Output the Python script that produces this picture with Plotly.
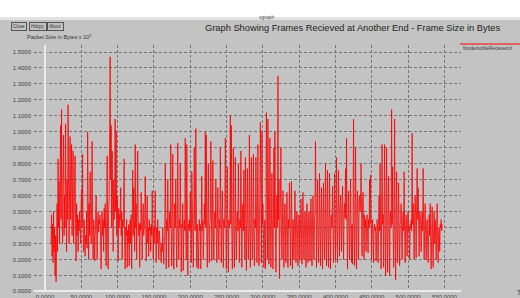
import plotly.graph_objects as go

# ---------------- data (frame size in bytes x 10^3) ----------------
frame_size = [
    # t ~ 8 .. 137
    0.30, 0.48, 0.22, 0.42, 0.18, 0.50, 0.25, 0.40,
    0.10, 0.35, 0.06, 0.30, 0.55, 0.25, 0.83, 0.40, 0.69, 0.30,
    0.55, 1.04, 0.45, 1.14, 0.50, 0.30, 0.70, 0.98, 0.35, 0.60,
    0.40, 1.05, 0.55, 0.25, 0.70, 0.45, 1.17, 0.50, 0.30, 0.65,
    0.97, 0.45, 0.60, 0.92, 0.35, 0.55, 0.88, 0.30, 0.50, 0.65,
    0.85, 0.40, 0.19, 0.55, 0.35, 0.48, 0.25, 0.45, 0.38, 0.50,
    0.42, 0.30, 0.55, 0.64, 0.40, 0.86, 0.35, 0.25, 0.45, 0.28,
    0.22, 0.35, 0.30, 0.50, 0.27, 1.00, 0.40, 0.20, 0.55, 0.35,
    0.75, 0.40, 0.30, 0.55, 0.94, 0.38, 0.20, 0.45, 0.40, 0.19,
    0.42, 0.38, 0.60, 0.40, 0.20, 0.45, 0.50, 0.37, 0.45, 0.42,
    0.48, 0.30, 0.14, 0.40, 0.50, 0.35, 0.45, 0.25, 0.52, 0.40,
    0.55, 0.35, 0.16, 0.45, 0.85, 0.30, 0.14, 0.50, 0.60, 1.04,
    1.47, 0.70, 1.04, 0.40, 0.88, 0.55, 0.25, 0.70, 0.45, 0.60,
    1.08, 0.50, 1.00, 0.35, 0.60, 0.45, 0.19, 0.52, 0.40, 0.48,
    0.45, 0.65, 0.35, 0.50, 0.20, 0.45, 0.40, 0.60, 0.83, 0.30,
    0.14, 0.40, 0.35, 0.45, 0.15, 0.38, 0.30, 0.42, 0.16, 0.40,
    0.45, 0.30, 0.48, 0.14, 0.40, 0.76, 0.35, 0.65, 0.45, 0.25,
    0.92, 0.40, 0.55, 0.20, 0.50, 0.88, 0.42, 0.35, 0.43, 0.15,
    0.42, 0.38, 0.62, 0.40, 0.20, 0.45, 0.55, 0.35, 0.41, 0.45,
    # t ~ 138 .. 275
    0.72, 0.38, 0.19, 0.42, 0.60, 0.30, 0.40, 0.22, 0.45, 0.38,
    0.40, 0.25, 0.42, 0.35, 0.63, 0.28, 0.20, 0.40, 0.30, 0.45,
    0.63, 0.35, 0.18, 0.40, 0.30, 0.45, 0.35, 0.20, 0.38, 0.30,
    0.28, 0.26, 0.18, 0.30, 0.25, 0.40, 0.27, 0.17, 0.32, 0.35,
    0.80, 0.40, 0.14, 0.45, 0.38, 0.70, 0.35, 0.15, 0.42, 0.50,
    0.40, 0.92, 0.38, 0.16, 0.45, 0.86, 0.35, 0.14, 0.40, 0.55,
    0.40, 0.70, 0.35, 0.15, 0.42, 0.93, 0.38, 0.20, 0.45, 0.40,
    0.80, 0.38, 0.12, 0.42, 0.40, 0.55, 0.13, 0.40, 0.45, 0.38,
    0.96, 0.40, 0.20, 0.92, 0.38, 0.10, 0.42, 0.40, 0.45, 0.38,
    0.62, 0.40, 0.18, 0.75, 0.38, 0.42, 0.15, 0.45, 0.90, 0.40,
    0.38, 1.02, 0.40, 0.15, 0.42, 0.36, 0.14, 0.40, 0.45, 0.38,
    0.42, 0.14, 0.40, 0.72, 0.38, 0.44, 0.20, 0.40, 0.55, 0.42,
    1.00, 0.40, 0.98, 0.35, 0.15, 0.45, 0.80, 0.40, 0.18, 0.42,
    0.45, 0.94, 0.40, 0.19, 0.45, 0.82, 0.38, 0.20, 0.42, 0.50,
    0.40, 0.70, 0.35, 0.18, 0.42, 0.65, 0.40, 0.20, 0.45, 0.40,
    0.90, 0.40, 0.18, 0.42, 0.63, 0.38, 0.15, 0.45, 0.40, 0.50,
    0.96, 0.40, 0.14, 0.42, 0.78, 0.38, 0.12, 0.45, 0.40, 0.44,
    1.10, 0.42, 1.04, 0.35, 0.14, 0.45, 0.90, 0.40, 0.15, 0.42,
    0.84, 0.40, 0.20, 0.45, 0.50, 0.38, 0.80, 0.42, 0.18, 0.45,
    0.40, 0.88, 0.42, 0.15, 0.45, 0.55, 0.38, 0.76, 0.40, 0.20,
    # t ~ 275 .. 413
    0.84, 0.40, 0.13, 0.45, 0.77, 0.38, 0.20, 0.42, 0.98, 0.40,
    0.15, 0.45, 0.84, 0.40, 0.20, 0.42, 0.86, 0.38, 0.16, 0.45,
    0.40, 0.84, 0.38, 0.18, 0.45, 0.92, 0.40, 0.16, 0.42, 0.60,
    1.06, 0.40, 0.18, 1.00, 0.42, 0.55, 0.38, 0.15, 0.40, 0.45,
    0.14, 0.42, 1.12, 0.40, 0.20, 1.08, 0.38, 0.17, 0.45, 0.96,
    0.40, 0.15, 0.42, 0.74, 0.38, 0.14, 0.45, 0.90, 0.40, 1.00,
    0.38, 0.12, 0.42, 0.60, 0.40, 1.35, 0.45, 0.70, 0.08, 0.40,
    0.45, 0.90, 0.40, 0.20, 0.42, 0.63, 0.38, 0.15, 0.45, 0.55,
    0.40, 0.18, 0.42, 0.62, 0.38, 0.15, 0.45, 0.40, 0.68, 0.38,
    0.16, 0.42, 0.69, 0.40, 0.14, 0.45, 0.38, 0.20, 0.42, 0.63,
    0.40, 0.18, 0.45, 0.50, 0.38, 0.16, 0.42, 0.48, 0.40, 0.20,
    0.42, 0.58, 0.40, 0.17, 0.45, 0.62, 0.38, 0.20, 0.42, 0.50,
    0.40, 0.15, 0.45, 0.55, 0.38, 0.18, 0.42, 0.50, 0.40, 0.19,
    0.45, 0.58, 0.40, 0.16, 0.42, 0.60, 0.38, 0.20, 0.45, 0.50,
    0.94, 0.40, 0.15, 0.45, 0.70, 0.38, 0.18, 0.42, 0.74, 0.40,
    0.16, 0.45, 0.65, 0.40, 0.14, 0.42, 0.68, 0.38, 0.20, 0.45,
    0.80, 0.40, 0.16, 0.45, 0.76, 0.38, 0.15, 0.42, 0.74, 0.40,
    0.14, 0.45, 0.48, 0.40, 0.66, 0.38, 0.18, 0.45, 0.74, 0.42,
    0.20, 0.45, 0.84, 0.40, 0.18, 0.48, 0.76, 0.45, 0.22, 0.50,
    0.60, 0.48, 0.25, 0.52, 0.66, 0.45, 0.20, 0.50, 0.55, 0.46,
    # t ~ 413 .. 547
    0.77, 0.45, 0.96, 0.40, 0.14, 0.48, 0.63, 0.40, 0.20, 0.45,
    0.70, 0.38, 0.18, 0.42, 0.17, 0.45, 1.08, 0.40, 0.16, 0.48,
    0.90, 0.42, 0.14, 0.50, 0.63, 0.45, 0.20, 0.55, 0.60, 0.50,
    0.56, 0.80, 0.48, 0.22, 0.55, 0.62, 0.45, 0.20, 0.48, 0.40,
    0.45, 0.25, 0.42, 0.48, 0.38, 0.24, 0.45, 0.40, 0.70, 0.42,
    0.73, 0.40, 0.20, 0.38, 0.45, 0.35, 0.18, 0.40, 0.42, 0.38,
    0.40, 0.19, 0.38, 0.45, 0.40, 0.18, 0.42, 0.60, 0.38, 0.80,
    0.40, 0.14, 0.45, 0.92, 0.42, 0.48, 0.15, 0.45, 0.92, 0.40,
    0.10, 0.45, 0.90, 0.40, 0.12, 0.48, 0.72, 0.40, 0.10, 0.45,
    0.50, 0.40, 1.14, 0.42, 0.78, 0.38, 0.15, 0.45, 1.08, 0.40,
    0.07, 0.42, 0.75, 0.40, 0.18, 0.45, 0.68, 0.38, 0.16, 0.42,
    0.45, 0.55, 0.40, 0.20, 0.42, 0.50, 0.38, 0.75, 0.40, 0.18,
    0.42, 0.48, 0.40, 0.22, 0.45, 0.50, 0.38, 0.40, 0.20, 0.42,
    0.40, 0.45, 0.38, 0.99, 0.42, 0.55, 0.40, 0.20, 0.50, 0.60,
    0.48, 0.21, 0.52, 0.77, 0.45, 0.65, 0.40, 0.22, 0.50, 0.48,
    0.42, 0.25, 0.45, 0.50, 0.38, 0.77, 0.42, 0.20, 0.40, 0.55,
    0.35, 0.20, 0.40, 0.45, 0.30, 0.18, 0.38, 0.48, 0.35, 0.55,
    0.30, 0.14, 0.35, 0.53, 0.28, 0.15, 0.38, 0.50, 0.30, 0.45,
    0.35, 0.20, 0.40, 0.55, 0.30, 0.18, 0.38, 0.40, 0.25, 0.42,
    0.40, 0.45, 0.38, 0.42,
]
t_first = 8.3      # time of first sample
t_last = 547.0     # time of last sample
t_step = (t_last - t_first) / (len(frame_size) - 1)
time = [t_first + i * t_step for i in range(len(frame_size))]

x_ticks = [0, 50, 100, 150, 200, 250, 300, 350, 400, 450, 500, 550]
y_ticks = [0.0, 0.1, 0.2, 0.3, 0.4, 0.5, 0.6, 0.7, 0.8, 0.9, 1.0, 1.1, 1.2, 1.3, 1.4, 1.5]

title_text = "Graph Showing Frames Recieved at Another End - Frame Size in Bytes"
ylabel_text = "Packet Size in Bytes x 10<sup>3</sup>"
legend_text = "finodemobileRecieved.tr"

# ---------------- layout helpers ----------------
W, H = 520, 298
L, R, T, B = 34, 59, 45, 6
PW, PH = W - L - R, H - T - B
BG = "#c3c3c3"


def px(x):
    return (x - L) / PW


def py(y):
    return (H - B - y) / PH


fig = go.Figure()
fig.add_trace(go.Scatter(
    x=time, y=frame_size, mode="lines",
    line=dict(color="#ff0000", width=0.8),
    name=legend_text, showlegend=False, hoverinfo="skip",
))

fig.update_layout(
    template="none",
    width=W, height=H,
    margin=dict(l=L, r=R, t=T, b=B, pad=0, autoexpand=False),
    paper_bgcolor=BG, plot_bgcolor=BG,
    font=dict(family="Liberation Sans, Arial, sans-serif", color="#333333", size=6),
    xaxis=dict(
        range=[-15.2, 572.9], tickvals=x_ticks, tickformat=".4f", automargin=False,
        showgrid=True, gridcolor="#757575", gridwidth=1, griddash="3px,2px",
        zeroline=True, zerolinecolor="#ececec", zerolinewidth=1.5,
        showline=False, ticks="", tickfont=dict(size=6, color="#444444"),
    ),
    yaxis=dict(
        range=[-0.004, 1.544], tickvals=y_ticks, tickformat=".4f", automargin=False,
        showgrid=True, gridcolor="#757575", gridwidth=1, griddash="3px,2px",
        zeroline=True, zerolinecolor="#ececec", zerolinewidth=1.5,
        showline=False, ticks="", ticklabelstandoff=2,
        tickfont=dict(size=6, color="#444444"),
    ),
)

shapes = [
    # window title bar
    dict(type="rect", xref="paper", yref="paper", x0=px(0), x1=px(W), y0=py(0), y1=py(17),
         fillcolor="#ffffff", line=dict(width=0), layer="above"),
    dict(type="rect", xref="paper", yref="paper", x0=px(0), x1=px(W), y0=py(17), y1=py(20),
         fillcolor="#e2e2e2", line=dict(width=0), layer="above"),
    # legend swatch
    dict(type="line", xref="paper", yref="paper", x0=px(460), x1=px(W), y0=py(44), y1=py(44),
         line=dict(color="#ff0000", width=1)),
]
fig.update_layout(shapes=shapes)

ann = []
ann.append(dict(text="xgraph", x=px(267), y=py(12), xref="paper", yref="paper",
                showarrow=False, font=dict(size=5, color="#555555")))
ann.append(dict(text=title_text, x=px(502), y=py(28), xref="paper", yref="paper",
                xanchor="right", yanchor="middle", showarrow=False,
                font=dict(size=9.3, color="#222222")))
ann.append(dict(text=ylabel_text, x=px(25), y=py(37), xref="paper", yref="paper",
                xanchor="left", yanchor="middle", showarrow=False,
                font=dict(size=5.5, color="#333333")))
ann.append(dict(text=legend_text, x=px(461), y=py(48), xref="paper", yref="paper",
                xanchor="left", yanchor="middle", showarrow=False,
                font=dict(size=4.6, color="#333333")))
ann.append(dict(text="Time", x=px(515), y=py(292), xref="paper", yref="paper",
                xanchor="left", yanchor="middle", showarrow=False,
                font=dict(size=6.5, color="#333333")))
for label, cx in [("Close", 18.5), ("Hdcpy", 38), ("About", 55.5)]:
    ann.append(dict(text=label, x=px(cx), y=py(26), xref="paper", yref="paper",
                    xanchor="center", yanchor="middle", showarrow=False,
                    bordercolor="#555555", borderwidth=1, borderpad=1, bgcolor=BG,
                    font=dict(size=4.5, color="#333333")))
fig.update_layout(annotations=ann)

fig.write_html(
    "out.html",
    config={"displayModeBar": False},
    post_script="document.body.style.margin='0px';document.body.style.overflow='hidden';",
)
